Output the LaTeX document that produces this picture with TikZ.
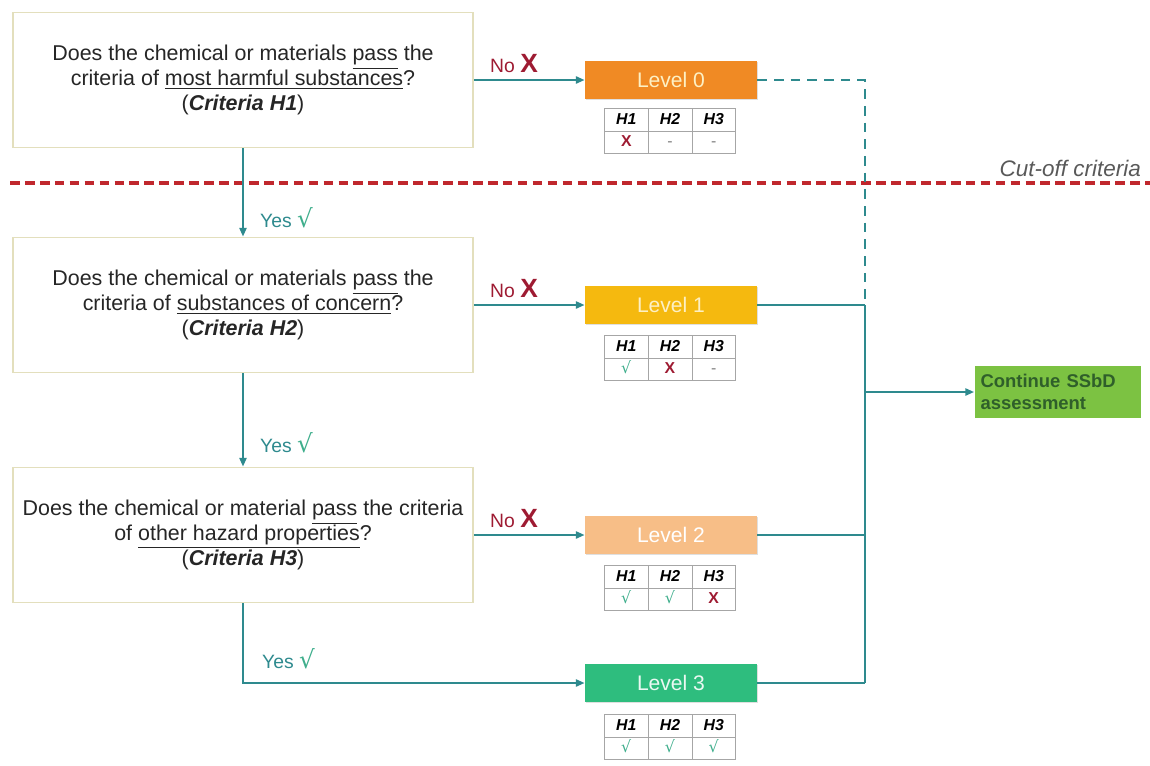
\documentclass[tikz,border=0pt]{standalone}
\usepackage{fontspec}
\setmainfont{Liberation Sans}
\newfontfamily\symfont{DejaVu Sans}
\usepackage{array}
\usepackage{colortbl}
\usetikzlibrary{arrows.meta,shadows}
\definecolor{flowteal}{HTML}{2E8A8E}
\definecolor{okteal}{HTML}{3FAE8C}
\definecolor{nored}{HTML}{9E1B32}
\definecolor{cutred}{HTML}{C0272D}
\definecolor{boxedge}{HTML}{E3DFBD}
\definecolor{lvzero}{HTML}{F08A24}
\definecolor{lvone}{HTML}{F5B90F}
\definecolor{lvtwo}{HTML}{F7BE87}
\definecolor{lvthree}{HTML}{2EBD7E}
\definecolor{lvtext}{HTML}{FDF0C4}
\definecolor{contfill}{HTML}{7CC242}
\definecolor{conttext}{HTML}{2F5F2A}

\newcolumntype{C}{>{\centering\arraybackslash\leavevmode}p{0.72cm}}
\newcommand{\okmark}{{\symfont\color{okteal}√}}
\newcommand{\yesmark}{{\symfont\fontsize{14}{14}\selectfont\color{okteal}√}}
\newcommand{\nomark}{{\color{nored}\bfseries X}}
\newcommand{\nil}{{\color{gray}-}}
\newcommand{\bigx}{{\fontsize{15}{15}\selectfont\bfseries X}}
\newcommand{\scoretab}[3]{%
  \setlength{\tabcolsep}{2pt}\renewcommand{\arraystretch}{1.25}%
  \arrayrulecolor{gray!70}%
  \begin{tabular}{|C|C|C|}\hline
    \textbf{\textit{H1}} & \textbf{\textit{H2}} & \textbf{\textit{H3}}\\\hline
    #1 & #2 & #3\\\hline
  \end{tabular}}

\begin{document}
\begin{tikzpicture}[
  x=0.02cm, y=-0.02cm,
  question/.style={draw=boxedge, line width=1pt, fill=white,
                   minimum width=9.2cm, minimum height=2.7cm,
                   align=center, font=\fontsize{12.2}{14}\selectfont, text=black!85},
  level/.style={minimum width=3.44cm, minimum height=0.76cm,
                font=\fontsize{12}{14}\selectfont,
                drop shadow={opacity=0.25, shadow xshift=0.6pt, shadow yshift=-0.8pt}},
  scores/.style={inner sep=0pt, font=\fontsize{9}{10}\selectfont},
  cont/.style={fill=contfill, text=conttext, font=\bfseries\fontsize{10.5}{12.5}\selectfont,
               text width=3.1cm, align=left, minimum height=1.04cm, inner xsep=0.12cm},
  arrow/.style={-{Triangle[length=5pt,width=4pt]}, line width=1.3pt, color=flowteal},
  link/.style={line width=1.3pt, color=flowteal},
  cutoff/.style={line width=1.8pt, color=cutred, dash pattern=on 5.5pt off 3pt},
  answer/.style={font=\fontsize{11}{13}\selectfont, anchor=west},
]
  \useasboundingbox (0,0) rectangle (1150,765);

  \coordinate (cutL) at (10,183);
  \coordinate (cutR) at (1150,183);
  \draw[cutoff] (cutL) -- (cutR);
  \node[anchor=east, font=\itshape\fontsize{12.8}{14}\selectfont, text=black!65]
    (cutlbl) at (1147,168) {Cut-off criteria};

  \node[question] (q1) at (243,80)
    {Does the chemical or materials \underline{pass} the\\
     criteria of \underline{most harmful substances}?\\
     (\textbf{\textit{Criteria H1}})};
  \node[question] (q2) at (243,305)
    {Does the chemical or materials \underline{pass} the\\
     criteria of \underline{substances of concern}?\\
     (\textbf{\textit{Criteria H2}})};
  \node[question] (q3) at (243,535)
    {Does the chemical or material \underline{pass} the criteria\\
     of \underline{other hazard properties}?\\
     (\textbf{\textit{Criteria H3}})};

  \node[level, fill=lvzero,  text=lvtext]  (lv0) at (671,80)  {Level 0};
  \node[level, fill=lvone,   text=lvtext]  (lv1) at (671,305) {Level 1};
  \node[level, fill=lvtwo,   text=white]   (lv2) at (671,535) {Level 2};
  \node[level, fill=lvthree, text=white!90!lvthree] (lv3) at (671,683) {Level 3};

  \node[scores] (t0) at (670,131) {\scoretab{\nomark}{\nil}{\nil}};
  \node[scores] (t1) at (670,358) {\scoretab{\okmark}{\nomark}{\nil}};
  \node[scores] (t2) at (670,588) {\scoretab{\okmark}{\okmark}{\nomark}};
  \node[scores] (t3) at (670,737) {\scoretab{\okmark}{\okmark}{\okmark}};

  \node[cont] (cont) at (1058,392) {Continue SSbD\\assessment};

  \coordinate (busTop) at (865,305);
  \coordinate (busMid) at (865,392);
  \coordinate (busEnd) at (865,683);

  \draw[arrow] (q1) -- (lv0);
  \draw[arrow] (q2) -- (lv1);
  \draw[arrow] (q3) -- (lv2);
  \draw[arrow] (q1) -- (q2);
  \draw[arrow] (q2) -- (q3);
  \draw[arrow] (q3.south) |- (lv3.west);

  \draw[link, dash pattern=on 5.5pt off 4pt] (lv0.east) -| (busMid);
  \draw[link] (lv1.east) -- (busTop);
  \draw[link] (lv2.east) -- (lv2.east -| busTop);
  \draw[link] (lv3.east) -- (busEnd);
  \draw[link] (busTop) -- (busEnd);
  \draw[arrow] (busMid) -- (cont);

  \node[answer, text=nored] (no1) at (484,64)  {No \bigx};
  \node[answer, text=nored] (no2) at (484,289) {No \bigx};
  \node[answer, text=nored] (no3) at (484,519) {No \bigx};
  \node[answer, text=flowteal] (yes1) at (254,218) {Yes \yesmark};
  \node[answer, text=flowteal] (yes2) at (254,443) {Yes \yesmark};
  \node[answer, text=flowteal] (yes3) at (256,659) {Yes \yesmark};
\end{tikzpicture}
\end{document}
